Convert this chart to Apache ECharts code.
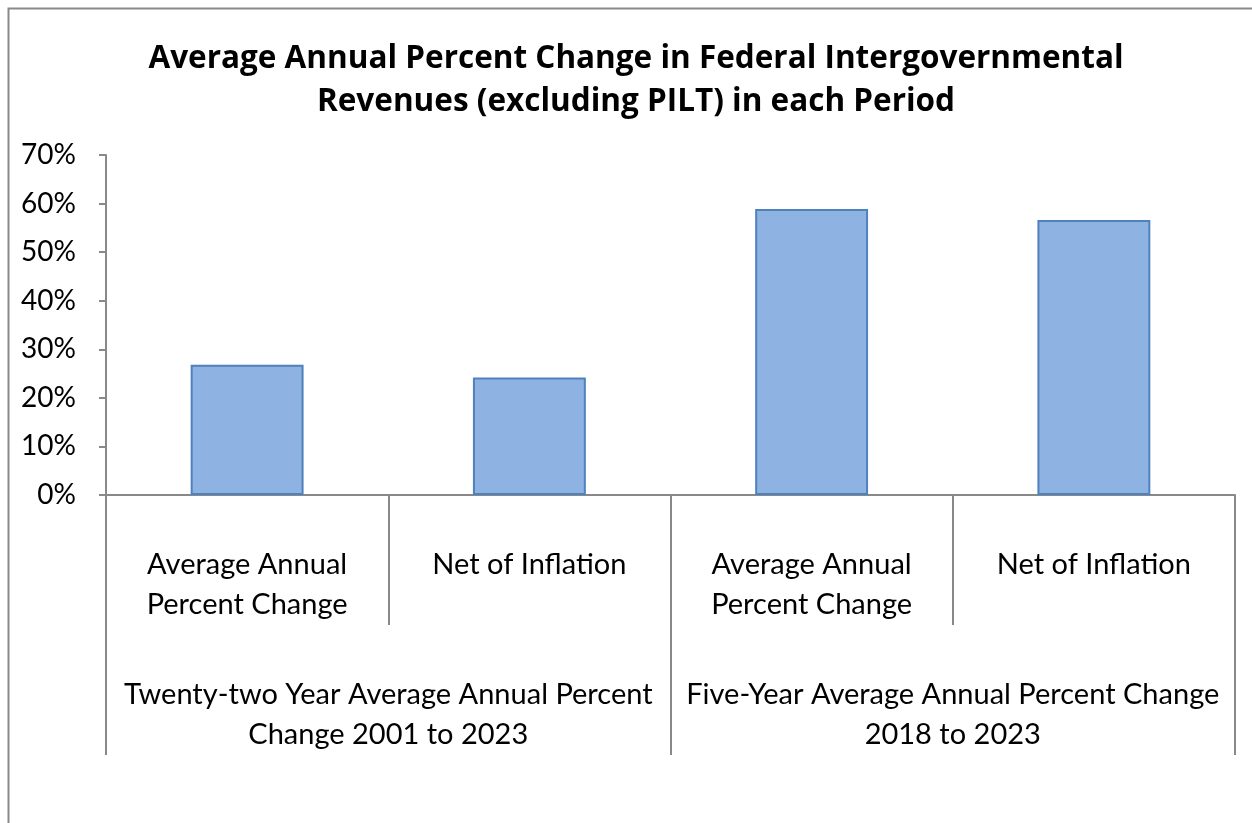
<!DOCTYPE html>
<html>
<head>
<meta charset="utf-8">
<script src="https://cdn.jsdelivr.net/npm/echarts@6/dist/echarts.min.js"></script>
<style>
html,body{margin:0;padding:0;background:#fff;}
#c{width:1252px;height:823px;}
</style>
</head>
<body>
<div id="c"></div>
<script>
var titleText = 'Average Annual Percent Change in Federal Intergovernmental\nRevenues (excluding PILT) in each Period';
var subCategories = ['Average Annual\nPercent Change', 'Net of Inflation', 'Average Annual\nPercent Change', 'Net of Inflation'];
var groupCategories = ['Twenty-two Year Average Annual Percent\nChange 2001 to 2023', 'Five-Year Average Annual Percent Change\n2018 to 2023'];
var values = [26.8, 24.2, 58.9, 56.6];
var yTicks = [0, 10, 20, 30, 40, 50, 60, 70];

var font = 'Lato, "Open Sans", sans-serif';
var chart = echarts.init(document.getElementById('c'), null, {renderer: 'canvas'});
chart.setOption({
  backgroundColor: '#fff',
  animation: false,
  title: {
    text: titleText,
    left: 631, top: 33, textAlign: 'center',
    textStyle: {fontFamily: 'Open Sans, sans-serif', fontWeight: 'bold', fontSize: 31.5, lineHeight: 43, color: '#000'}
  },
  graphic: [{
    type: 'rect', left: 6, top: 6, silent: true,
    shape: {width: 1260, height: 840},
    style: {fill: 'none', stroke: '#898989', lineWidth: 2}
  }],
  grid: {left: 106, right: 17, top: 155, bottom: 328, containLabel: false},
  xAxis: [{
    type: 'category', data: subCategories, position: 'bottom',
    axisLine: {show: true, lineStyle: {color: '#898989', width: 2}},
    axisTick: {show: true, length: 130, alignWithLabel: false, lineStyle: {color: '#898989', width: 2}},
    axisLabel: {interval: 0, margin: 50, fontFamily: font, fontSize: 29, lineHeight: 40, color: '#000', align: 'center', verticalAlign: 'top'}
  }, {
    type: 'category', data: groupCategories, position: 'bottom', offset: 0,
    axisLine: {show: false},
    axisTick: {show: true, length: 260, alignWithLabel: false, lineStyle: {color: '#898989', width: 2}},
    axisLabel: {interval: 0, margin: 180, fontFamily: font, fontSize: 29, lineHeight: 40, color: '#000', align: 'center', verticalAlign: 'top'}
  }],
  yAxis: {
    type: 'value', min: 0, max: 70, interval: 10,
    axisLine: {show: true, lineStyle: {color: '#898989', width: 2}},
    axisTick: {show: true, length: 7, lineStyle: {color: '#898989', width: 2}},
    splitLine: {show: false},
    axisLabel: {margin: 30, fontFamily: font, fontSize: 28, color: '#000', formatter: function (v) { return yTicks.indexOf(v) >= 0 ? v + '%' : ''; }}
  },
  series: [{
    type: 'bar', xAxisIndex: 0, data: values, barWidth: '40%',
    itemStyle: {color: '#8EB3E2', borderColor: '#4F81BD', borderWidth: 2}
  }]
});
</script>
</body>
</html>
